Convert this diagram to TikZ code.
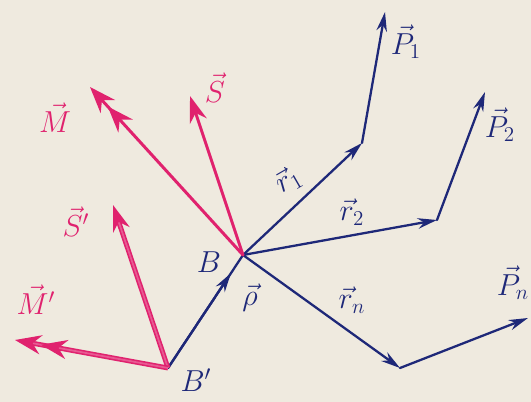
\documentclass[tikz,border=0pt]{standalone}
\usetikzlibrary{arrows.meta,calc}
\definecolor{paper}{HTML}{EFEADF}
\definecolor{ink}{HTML}{1E2878}
\definecolor{mag}{HTML}{E0226E}
\begin{document}
\begin{tikzpicture}[x=0.02cm,y=-0.02cm,
  bl/.style={ink, line width=1.3pt, line cap=round},
  mg/.style={mag, line width=1.7pt, line cap=round},
  mgd/.style={mag, line width=0.9pt, double=mag!75, double distance=1pt},
  tipb/.style={-{Stealth[length=11pt,width=6pt]}},
  tipm/.style={-{Stealth[length=15pt,width=10pt]}},
  tipmm/.style={-{Stealth[length=15pt,width=11pt]Stealth[length=15pt,width=11pt]}},
  lbb/.style={ink, font=\LARGE, inner sep=1pt},
  lbm/.style={mag, font=\LARGE, inner sep=1pt}]
\fill[paper] (0,0) rectangle (531,402);
\useasboundingbox (0,0) rectangle (531,402);
% points
\coordinate (B) at (243,255);
\coordinate (Bp) at (168,368);
\coordinate (J1) at (362,143);
\coordinate (T1) at (385,12);
\coordinate (J2) at (437,220);
\coordinate (T2) at (485,92);
\coordinate (Jn) at (400,368);
\coordinate (Tn) at (528,318);
\coordinate (TM) at (90,87);
\coordinate (TS) at (190,96);
\coordinate (TSp) at (113,205);
\coordinate (TMp) at (15,340);
% blue vectors
\draw[bl] (Bp) -- (B);
\draw[bl,tipb] (Bp) -- ($(Bp)!0.84!(B)$);
\draw[bl,tipb] (B) -- (J1);
\draw[bl,tipb] (J1) -- (T1);
\draw[bl,tipb] (B) -- (J2);
\draw[bl,tipb] (J2) -- (T2);
\draw[bl,tipb] (B) -- (Jn);
\draw[bl,tipb] (Jn) -- (Tn);
% magenta vectors
\draw[mg,tipmm] (B) -- (TM);
\draw[mg,tipm] (B) -- (TS);
\draw[mgd,tipm] (Bp) -- (TSp);
\draw[mgd,tipmm] (Bp) -- (TMp);
% labels
\node[lbb] (lP1) at (406,42) {$\vec{P}_1$};
\node[lbb] (lP2) at (500,125) {$\vec{P}_2$};
\node[lbb] (lPn) at (513,283) {$\vec{P}_n$};
\node[lbb,rotate=30] (lr1) at (288,180) {$\vec{r}_1$};
\node[lbb] (lr2) at (352,212) {$\vec{r}_2$};
\node[lbb] (lrn) at (352,300) {$\vec{r}_n$};
\node[lbb] (lB) at (209,262) {$B$};
\node[lbb] (lBp) at (196,380) {$B'$};
\node[lbb] (lrho) at (250,298) {$\vec{\rho}$};
\node[lbm] (lS) at (215,88) {$\vec{S}$};
\node[lbm] (lM) at (55,118) {$\vec{M}$};
\node[lbm] (lSp) at (76,222) {$\vec{S}'$};
\node[lbm] (lMp) at (36,300) {$\vec{M}'$};
\end{tikzpicture}
\end{document}
